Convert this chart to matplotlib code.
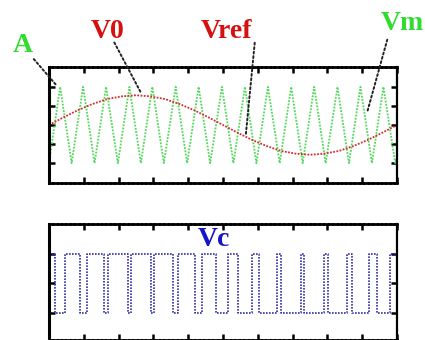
import matplotlib
matplotlib.use("Agg")
import matplotlib.pyplot as plt

# ---------------- data ----------------
# triangular carrier: vertex times and values
carrier_t = [0.000, 0.032, 0.065, 0.098, 0.131, 0.164, 0.198, 0.231, 0.264, 0.297,
             0.330, 0.364, 0.397, 0.430, 0.463, 0.497, 0.530, 0.563, 0.596, 0.629,
             0.663, 0.696, 0.729, 0.762, 0.795, 0.829, 0.862, 0.895, 0.928, 0.961,
             0.995, 1.000]
carrier_v = [-1, 1, -1, 1, -1, 1, -1, 1, -1, 1,
             -1, 1, -1, 1, -1, 1, -1, 1, -1, 1,
             -1, 1, -1, 1, -1, 1, -1, 1, -1, 1,
             -1, -0.84]

# reference sine samples (every 1/24 of the window)
ref_t = [i / 24 for i in range(25)]
ref_v = [0.00, 0.20, 0.39, 0.55, 0.68, 0.75, 0.78, 0.75, 0.68, 0.55, 0.39, 0.20,
         0.00, -0.20, -0.39, -0.55, -0.68, -0.75, -0.78, -0.75, -0.68, -0.55, -0.39,
         -0.20, 0.00]

# switching output Vc: start level and switching instants
vc_start = 1
vc_edges = [0.018, 0.046, 0.089, 0.108, 0.159, 0.170, 0.227, 0.235, 0.293, 0.302,
            0.357, 0.371, 0.419, 0.441, 0.480, 0.513, 0.542, 0.584, 0.604, 0.655,
            0.667, 0.724, 0.733, 0.791, 0.801, 0.856, 0.871, 0.919, 0.942, 0.981]

labels = ["A", "V0", "Vref", "Vm", "Vc"]

# ---------------- build Vc step line ----------------
vc_t = [0.0]
vc_v = [vc_start]
lvl = vc_start
for e in vc_edges:
    vc_t += [e, e]
    vc_v += [lvl, -lvl]
    lvl = -lvl
vc_t.append(1.0)
vc_v.append(lvl)

# ---------------- figure ----------------
W, H = 425, 340
fig = plt.figure(figsize=(W / 100, H / 100), dpi=100)

def fx(px):
    return px / W

def fy(py):
    return 1 - py / H

ax1 = fig.add_axes([fx(49), fy(183), fx(397) - fx(49), fy(67) - fy(183)])
ax2 = fig.add_axes([fx(49), 0.0, fx(397) - fx(49), fy(224)])

green = "#52d85a"
red = "#d03030"
blue = "#3030a8"

ax1.plot(carrier_t, carrier_v, color=green, lw=1.3, ls=(0, (1, 0.8)))
ax1.plot(ref_t, ref_v, color=red, lw=1.3, ls=(0, (1, 0.8)))
ax1.set_xlim(0, 1)
ax1.set_ylim(-1.52, 1.52)
ax1.set_yticks([-1, -0.5, 0, 0.5, 1])

ax2.plot(vc_t, vc_v, color=blue, lw=1.2, ls=(0, (1, 0.8)))
ax2.set_xlim(0, 1)
ax2.set_ylim(-1.93, 2.0)
ax2.set_yticks([-1, 0, 1])

for ax in (ax1, ax2):
    ax.set_xticks([i / 10 for i in range(11)])
    ax.tick_params(direction="in", length=4, width=1.8, color="black",
                   top=True, right=True, labelbottom=False, labelleft=False)
    ax.spines["left"].set_linewidth(2.2)
    ax.spines["right"].set_linewidth(1.6)
    for s in ("top", "bottom"):
        ax.spines[s].set_linewidth(2.0)
        ax.spines[s].set_linestyle((0, (1, 0.6)))

font = dict(family="Liberation Serif", weight="bold", fontsize=20)

fig.text(fx(23), fy(45), labels[0], color="#30dc30", ha="center", va="center", **font)
fig.text(fx(107.5), fy(31), labels[1], color="#d41010", ha="center", va="center", **font)
fig.text(fx(227), fy(31), labels[2], color="#d41010", ha="center", va="center", **font)
fig.text(fx(381), fy(23), labels[3], color="#30dc30", ha="left", va="center", **font)
fig.text(fx(213.5), fy(240), labels[4], color="#1414c8", ha="center", va="center", **font)

lead = dict(arrowstyle="-", color="#222222", lw=1.4, ls=(0, (1, 1.3)))
ax1.annotate("", xy=(0.027, 0.98), xytext=(fx(32), fy(57)),
             textcoords="figure fraction", arrowprops=lead)
ax1.annotate("", xy=(0.268, 0.78), xytext=(fx(113), fy(40)),
             textcoords="figure fraction", arrowprops=lead)
ax1.annotate("", xy=(0.565, -0.31), xytext=(fx(255), fy(40)),
             textcoords="figure fraction", arrowprops=lead)
ax1.annotate("", xy=(0.912, 0.26), xytext=(fx(388), fy(37)),
             textcoords="figure fraction", arrowprops=lead)

fig.savefig("out.png", dpi=100)
